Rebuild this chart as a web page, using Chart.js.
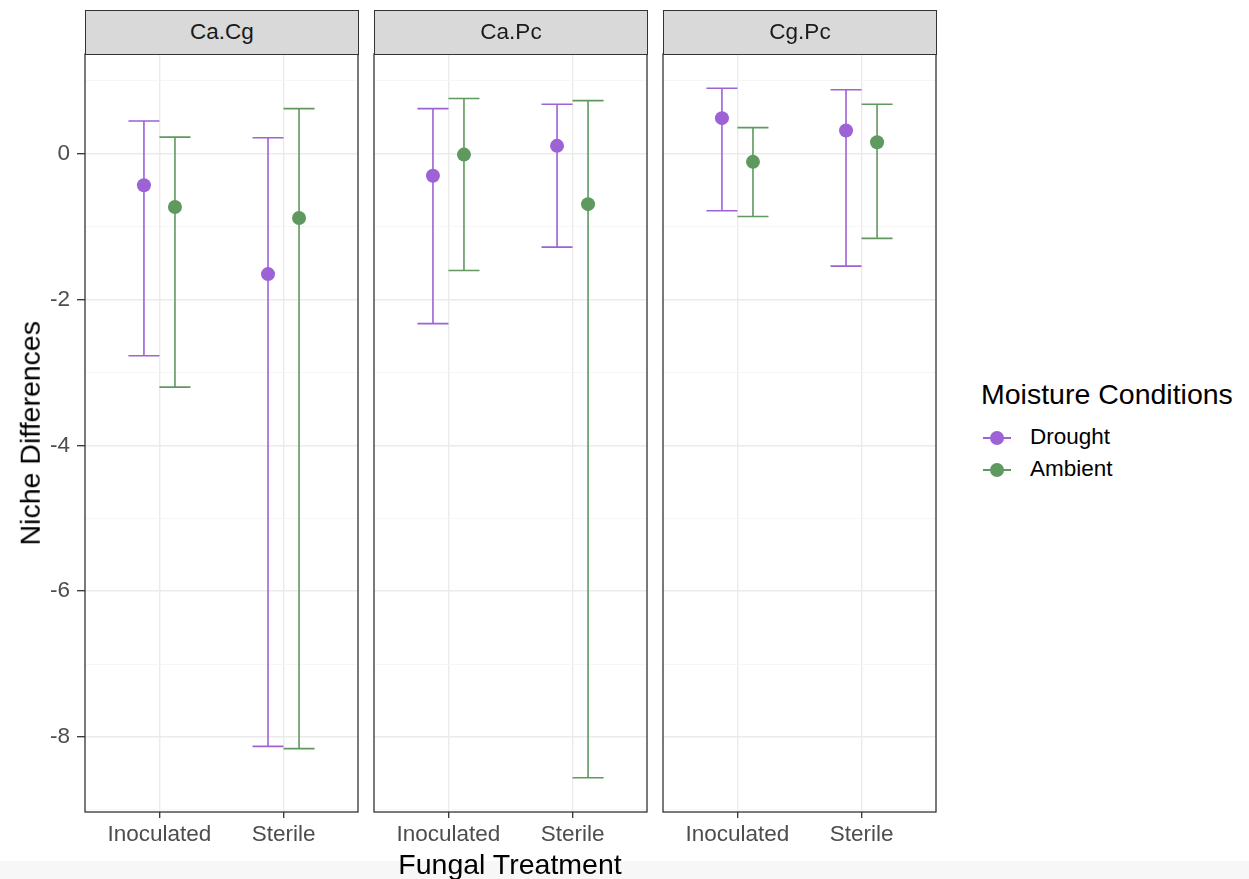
<!DOCTYPE html>
<html>
<head>
<meta charset="utf-8">
<script src="https://cdn.jsdelivr.net/npm/chart.js@4"></script>
<style>
  body { margin: 0; background: #fff; font-family: "Liberation Sans", Arial, Helvetica, sans-serif; }
  #fig { position: relative; width: 1249px; height: 879px; overflow: hidden; background: #fff; }
  #fig canvas { position: absolute; }
  .band { position: absolute; left: 0; top: 861px; width: 1249px; height: 18px; background: #f7f7f7; }
  .strip { position: absolute; top: 10px; height: 45px; box-sizing: border-box; border: 1.3px solid #333;
           background: #d9d9d9; color: #1a1a1a; font-size: 22.5px; line-height: 42px; text-align: center; }
  .title { position: absolute; color: #000; font-size: 28.5px; line-height: 1; white-space: nowrap; }
  .ytitle { left: -170px; top: 419px; width: 400px; text-align: center; transform: rotate(-90deg); }
  .xtitle { left: 85px; top: 850px; width: 850px; text-align: center; }
  .ltitle { left: 981px; top: 380px; }
  .litem { position: absolute; left: 1030px; font-size: 22.5px; line-height: 1; color: #000; }
  .kline { position: absolute; left: 983px; width: 28px; height: 1.6px; }
  .kdot { position: absolute; left: 990px; width: 14px; height: 14px; border-radius: 50%; }
</style>
</head>
<body>
<div id="fig">
  <div class="band"></div>
  <canvas id="p0" width="360" height="805" style="left:0px;top:52px"></canvas>
  <canvas id="p1" width="277" height="805" style="left:372px;top:52px"></canvas>
  <canvas id="p2" width="277" height="805" style="left:661px;top:52px"></canvas>
  <div id="strips"></div>
  <div class="title ytitle">Niche Differences</div>
  <div class="title xtitle">Fungal Treatment</div>
  <div class="title ltitle">Moisture Conditions</div>
  <div id="legend"></div>
</div>
<script>
// facets and categories
const panels = ['Ca.Cg', 'Ca.Pc', 'Cg.Pc'];
const categories = ['Inoculated', 'Sterile'];
const seriesNames = ['Drought', 'Ambient'];
const yBreaks = [-9, -8, -7, -6, -5, -4, -3, -2, -1, 0, 1];

// one row per panel, one value per category
const droughtMean = [[-0.43, -1.65], [-0.30, 0.11], [0.49, 0.32]];
const droughtLow  = [[-2.77, -8.13], [-2.33, -1.28], [-0.78, -1.54]];
const droughtHigh = [[0.45, 0.22], [0.62, 0.68], [0.90, 0.88]];
const ambientMean = [[-0.73, -0.88], [-0.01, -0.69], [-0.11, 0.16]];
const ambientLow  = [[-3.20, -8.16], [-1.60, -8.56], [-0.86, -1.16]];
const ambientHigh = [[0.23, 0.62], [0.76, 0.73], [0.36, 0.68]];

const purple = '#9d62d6';
const green = '#5f995f';
const yMin = -9.03, yMax = 1.37;
const dodge = 0.125;   // half of the dodge width
const capHalf = 0.125; // half of the errorbar width

const fontFam = '"Liberation Sans", Arial, Helvetica, sans-serif';
Chart.defaults.font.family = fontFam;

const errorBars = {
  id: 'errorBars',
  beforeDatasetsDraw(chart) {
    const { ctx, scales: { x, y } } = chart;
    ctx.save();
    ctx.lineWidth = 1.6;
    chart.data.datasets.forEach(ds => {
      ctx.strokeStyle = ds.backgroundColor;
      ds.data.forEach((pt, i) => {
        const px = x.getPixelForValue(pt.x);
        const l = x.getPixelForValue(pt.x - capHalf);
        const r = x.getPixelForValue(pt.x + capHalf);
        const lo = y.getPixelForValue(ds.lows[i]);
        const hi = y.getPixelForValue(ds.highs[i]);
        ctx.beginPath();
        ctx.moveTo(px, lo); ctx.lineTo(px, hi);
        ctx.moveTo(l, lo); ctx.lineTo(r, lo);
        ctx.moveTo(l, hi); ctx.lineTo(r, hi);
        ctx.stroke();
      });
    });
    ctx.restore();
  },
  afterDraw(chart) {
    // panel border on top
    const { ctx, chartArea: a } = chart;
    ctx.save();
    ctx.strokeStyle = '#333';
    ctx.lineWidth = 1.3;
    ctx.strokeRect(a.left, a.top, a.right - a.left, a.bottom - a.top);
    ctx.restore();
  }
};

function makePanel(p) {
  const showY = p === 0;
  const series = [
    [droughtMean, droughtLow, droughtHigh, purple, -dodge],
    [ambientMean, ambientLow, ambientHigh, green, dodge]
  ];
  new Chart(document.getElementById('p' + p), {
    type: 'scatter',
    data: {
      datasets: series.map((s, k) => ({
        label: seriesNames[k],
        data: categories.map((c, i) => ({ x: i + 1 + s[4], y: s[0][p][i] })),
        lows: s[1][p],
        highs: s[2][p],
        backgroundColor: s[3],
        borderWidth: 0,
        pointRadius: 7,
        pointHoverRadius: 7
      }))
    },
    options: {
      responsive: false,
      animation: false,
      events: [],
      layout: { autoPadding: false, padding: { top: 2, bottom: 0, left: showY ? 0 : 2, right: 2 } },
      plugins: { legend: { display: false }, tooltip: { enabled: false } },
      scales: {
        x: {
          type: 'linear', min: 0.4, max: 2.6, bounds: 'data',
          afterBuildTicks: s => { s.ticks = categories.map((c, i) => ({ value: i + 1 })); },
          afterFit: s => { s.height = 45; s.paddingLeft = 0; s.paddingRight = 0; },
          ticks: {
            callback: v => categories[v - 1],
            color: '#4d4d4d', font: { size: 22.5 }, padding: 3,
            autoSkip: false, maxRotation: 0
          },
          grid: { color: '#ebebeb', lineWidth: 1.4, tickColor: '#333', tickLength: 6, tickWidth: 1.3 },
          border: { display: false }
        },
        y: {
          type: 'linear', min: yMin, max: yMax, bounds: 'data',
          afterBuildTicks: s => { s.ticks = yBreaks.map(v => ({ value: v })); },
          afterFit: s => { s.width = showY ? 85 : 0; s.paddingTop = 0; s.paddingBottom = 0; },
          ticks: {
            display: showY,
            callback: v => (v % 2 === 0 ? String(v) : ''),
            color: '#4d4d4d', font: { size: 22.5 }, padding: 7, autoSkip: false
          },
          grid: {
            color: c => (c.tick && c.tick.value % 2 === 0 ? '#ebebeb' : '#f4f4f4'),
            lineWidth: c => (c.tick && c.tick.value % 2 === 0 ? 1.4 : 0.8),
            drawTicks: showY,
            tickLength: 8,
            tickWidth: 1.3,
            tickColor: c => (c.tick && c.tick.value % 2 === 0 ? '#333' : 'rgba(0,0,0,0)')
          },
          border: { display: false }
        }
      }
    },
    plugins: [errorBars]
  });
}

panels.forEach((name, p) => makePanel(p));

// strip labels, placed over each panel
const panelLeft = [85, 374, 663];
const panelWidth = 273;
const strips = document.getElementById('strips');
panels.forEach((name, p) => {
  const d = document.createElement('div');
  d.className = 'strip';
  d.style.left = panelLeft[p] + 'px';
  d.style.width = (panelWidth + 1) + 'px';
  d.textContent = name;
  strips.appendChild(d);
});

// legend
const legend = document.getElementById('legend');
[purple, green].forEach((col, k) => {
  const cy = 438 + k * 32;
  legend.insertAdjacentHTML('beforeend',
    `<div class="kline" style="top:${cy - 0.8}px;background:${col}"></div>` +
    `<div class="kdot" style="top:${cy - 7}px;background:${col}"></div>` +
    `<div class="litem" style="top:${cy - 12}px">${seriesNames[k]}</div>`);
});
</script>
</body>
</html>
